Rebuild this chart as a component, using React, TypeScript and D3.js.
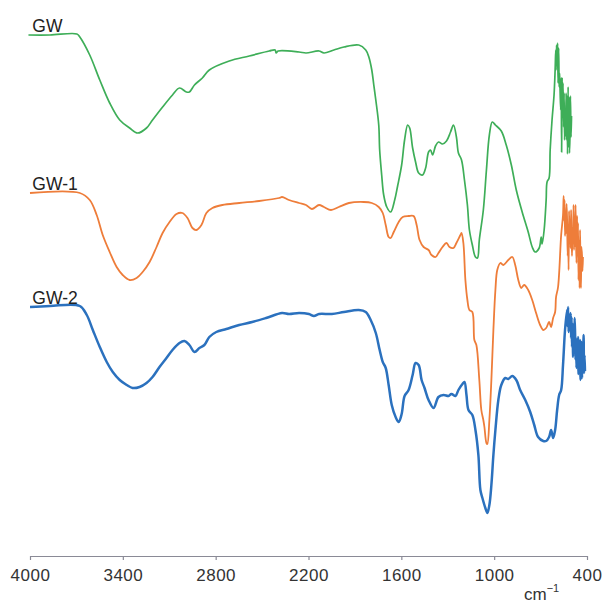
import { useEffect, useRef } from 'react';
import * as d3 from 'd3';

// FTIR spectra, stacked with offsets. [wavenumber cm-1, offset transmittance a.u.]
const GW: [number, number][] = [
  [4010, 521], [3871, 521], [3697, 522], [3678, 519], [3614, 501], [3549, 476], [3485, 453],
  [3420, 436], [3356, 428], [3304, 423], [3247, 428], [3208, 436], [3143, 449], [3079, 461],
  [3034, 468], [2989, 464], [2970, 464], [2937, 471], [2886, 478], [2841, 486], [2712, 495],
  [2583, 500], [2454, 505], [2416, 506], [2409, 503], [2396, 505], [2261, 504], [2216, 503],
  [2132, 505], [2100, 503], [2036, 506], [1971, 509], [1875, 511], [1830, 506], [1810, 499],
  [1791, 486], [1778, 471], [1765, 456], [1746, 431], [1740, 406], [1727, 381], [1714, 361],
  [1694, 349], [1669, 344], [1643, 356], [1624, 370], [1598, 391], [1579, 416], [1559, 431],
  [1546, 428], [1527, 408], [1508, 394], [1488, 383], [1463, 381], [1443, 388], [1424, 404],
  [1411, 406], [1398, 401], [1379, 410], [1360, 414], [1334, 412], [1308, 415], [1282, 424],
  [1263, 431], [1244, 419], [1231, 403], [1211, 396], [1192, 376], [1173, 351], [1160, 326],
  [1141, 311], [1121, 299], [1108, 298], [1096, 316], [1070, 346], [1050, 386], [1031, 421],
  [1012, 434], [992, 431], [954, 425], [922, 411], [889, 391], [857, 366], [819, 344],
  [780, 324], [754, 309], [735, 304], [709, 308], [696, 319], [690, 312], [677, 326],
  [664, 356], [658, 374], [645, 378], [638, 406], [626, 436], [613, 461], [606, 486],
  [602, 506], [600, 486], [597, 511], [593, 490], [590, 513], [587, 473], [583, 508],
  [580, 469], [577, 483], [574, 466], [570, 446], [567, 478], [564, 404], [561, 478],
  [558, 439], [555, 473], [551, 429], [548, 463], [545, 416], [542, 446], [538, 420],
  [535, 463], [532, 416], [529, 460], [526, 402], [522, 469], [519, 409], [516, 459],
  [513, 403], [510, 420], [507, 460], [503, 419], [500, 440],
];

const GW1: [number, number][] = [
  [4000, 363], [3678, 363], [3614, 356], [3569, 341], [3530, 321], [3485, 304], [3440, 289],
  [3401, 281], [3356, 276], [3311, 278], [3272, 284], [3227, 294], [3182, 309], [3143, 323],
  [3098, 334], [3053, 342], [3015, 343], [2982, 338], [2950, 328], [2925, 326], [2892, 331],
  [2860, 343], [2821, 348], [2757, 351], [2648, 353], [2519, 355], [2390, 358], [2371, 359],
  [2326, 356], [2261, 353], [2216, 351], [2178, 347], [2132, 351], [2100, 349], [2055, 346],
  [2004, 349], [1939, 353], [1843, 354], [1791, 353], [1746, 349], [1720, 343], [1701, 331],
  [1682, 319], [1669, 318], [1649, 324], [1617, 334], [1591, 339], [1553, 340], [1521, 340],
  [1501, 331], [1482, 316], [1456, 309], [1424, 306], [1405, 301], [1379, 299], [1360, 303],
  [1334, 309], [1308, 313], [1289, 309], [1263, 308], [1244, 313], [1218, 321], [1211, 323],
  [1199, 313], [1186, 276], [1173, 256], [1160, 246], [1141, 244], [1128, 216], [1115, 211],
  [1096, 176], [1083, 146], [1070, 136], [1063, 129], [1050, 113], [1044, 112], [1031, 136],
  [1018, 176], [1005, 226], [992, 266], [980, 286], [960, 293], [941, 291], [909, 296],
  [883, 299], [864, 291], [844, 276], [825, 268], [806, 271], [780, 266], [754, 256],
  [729, 243], [703, 231], [683, 226], [664, 228], [645, 234], [632, 229], [619, 238],
  [606, 244], [600, 259], [587, 269], [567, 321], [555, 341], [551, 360], [548, 335],
  [545, 356], [542, 320], [538, 343], [535, 323], [532, 352], [529, 339], [525, 300],
  [522, 328], [519, 286], [516, 345], [513, 318], [510, 333], [506, 308], [503, 346],
  [500, 323], [497, 300], [493, 328], [490, 316], [487, 351], [484, 306], [480, 329],
  [477, 310], [474, 351], [471, 318], [468, 293], [464, 340], [461, 300], [458, 333],
  [455, 276], [452, 315], [448, 268], [445, 326], [442, 290], [439, 268], [436, 309],
  [432, 300], [429, 285], [426, 299],
];

const GW2: [number, number][] = [
  [4000, 249], [3871, 250], [3678, 250], [3633, 241], [3594, 226], [3549, 209], [3504, 194],
  [3465, 184], [3420, 176], [3375, 171], [3337, 168], [3292, 169], [3247, 173], [3208, 179],
  [3163, 189], [3118, 198], [3079, 206], [3034, 213], [3002, 215], [2970, 211], [2937, 204],
  [2905, 208], [2873, 211], [2841, 219], [2796, 224], [2731, 227], [2648, 231], [2564, 234],
  [2474, 238], [2371, 243], [2326, 242], [2261, 243], [2197, 242], [2165, 240], [2132, 242],
  [2049, 242], [1971, 244], [1875, 246], [1830, 244], [1798, 236], [1765, 223], [1740, 206],
  [1720, 194], [1701, 188], [1682, 171], [1662, 151], [1637, 139], [1617, 134], [1598, 142],
  [1579, 160], [1553, 166], [1527, 181], [1508, 193], [1488, 191], [1469, 176], [1450, 168],
  [1424, 156], [1392, 148], [1360, 159], [1327, 161], [1295, 160], [1276, 162], [1250, 160],
  [1231, 166], [1205, 172], [1192, 174], [1179, 161], [1166, 146], [1141, 141], [1121, 126],
  [1102, 101], [1089, 66], [1076, 58], [1057, 48], [1044, 43], [1031, 51], [1018, 71],
  [1005, 101], [992, 126], [973, 156], [954, 171], [928, 178], [909, 177], [883, 180],
  [857, 176], [832, 166], [799, 156], [767, 144], [741, 131], [716, 119], [683, 115],
  [664, 115], [645, 119], [632, 126], [619, 118], [606, 126], [593, 146], [580, 161],
  [567, 166], [555, 191], [542, 226], [529, 246], [526, 230], [522, 249], [519, 224],
  [516, 241], [513, 232], [510, 226], [506, 243], [503, 218], [500, 239], [497, 209],
  [493, 232], [490, 199], [487, 225], [484, 209], [480, 238], [477, 223], [474, 196],
  [471, 218], [468, 188], [464, 212], [461, 194], [458, 219], [455, 182], [452, 205],
  [448, 186], [445, 216], [442, 176], [439, 200], [436, 214], [432, 178], [429, 209],
  [426, 187], [422, 221], [419, 183], [416, 201], [413, 185],
];

const seriesNames = ['GW', 'GW-1', 'GW-2'];
const seriesData = [GW, GW1, GW2];
const seriesColors = ['#3eae58', '#ee7d3a', '#2b71be'];
const seriesWidths = [1.7, 1.8, 2.5];
const xTicks = [4000, 3400, 2800, 2200, 1600, 1000, 400];

export default function App() {
  const svgRef = useRef<SVGSVGElement>(null);

  useEffect(() => {
    if (!svgRef.current) return;
    const svg = d3.select(svgRef.current);
    svg.selectAll('*').remove();

    const W = 602, H = 603;
    const m = { l: 30, r: 15, b: 47, t: 26 };
    const axisY = H - m.b;

    const x = d3.scaleLinear().domain([4000, 400]).range([m.l, W - m.r]);
    const y = d3.scaleLinear().domain([0, 530]).range([axisY, m.t]);

    const line = d3.line<[number, number]>()
      .x(d => x(d[0]))
      .y(d => y(d[1]))
      .curve(d3.curveCatmullRom.alpha(0.5));

    seriesData.forEach((data, i) => {
      svg.append('path').datum(data).attr('d', line)
        .attr('fill', 'none').attr('stroke', seriesColors[i])
        .attr('stroke-width', seriesWidths[i]).attr('stroke-linejoin', 'round');
      svg.append('text')
        .attr('x', x(3985)).attr('y', y(data[0][1]) - 3)
        .attr('font-family', 'Liberation Sans, Arial, sans-serif').attr('font-size', 17.5)
        .attr('fill', '#222').text(seriesNames[i]);
    });

    // x axis
    const ax = svg.append('g').attr('transform', `translate(0,${axisY})`)
      .call(d3.axisBottom(x).tickValues(xTicks).tickSize(4).tickSizeOuter(0).tickPadding(9).tickFormat(d3.format('d')));
    ax.select('.domain').attr('stroke', '#8a8a96').attr('stroke-width', 1.2);
    ax.selectAll('.tick line').attr('stroke', '#8a8a96').attr('stroke-width', 1.2);
    ax.selectAll('.tick text').attr('fill', '#333').attr('font-size', 17)
      .attr('font-family', 'Liberation Sans, Arial, sans-serif').attr('letter-spacing', 0.5);

    const unit = svg.append('text').attr('x', 524).attr('y', 600)
      .attr('font-family', 'Liberation Sans, Arial, sans-serif').attr('fill', '#333').attr('font-size', 17);
    unit.append('tspan').text('cm');
    unit.append('tspan').attr('dy', -8).attr('font-size', 11).text('−1');
  }, []);

  return (
    <svg ref={svgRef} width={602} height={603} viewBox="0 0 602 603"
      style={{ position: 'absolute', left: 0, top: 0, background: '#fff' }} />
  );
}
